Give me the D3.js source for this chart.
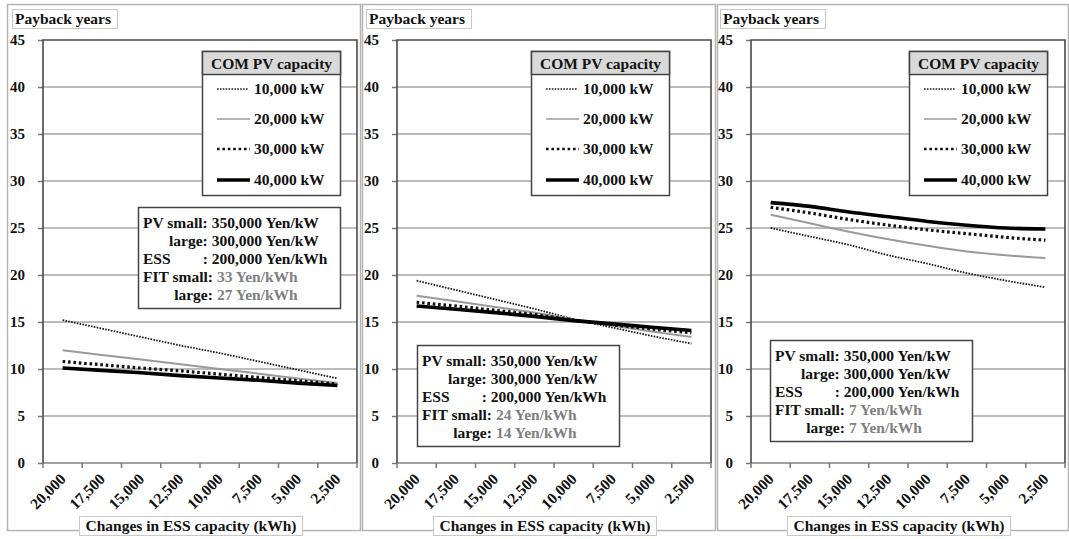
<!DOCTYPE html>
<html>
<head>
<meta charset="utf-8">
<script src="https://cdn.jsdelivr.net/npm/d3@7"></script>
<style>
  html, body { margin: 0; padding: 0; background: #fff; }
  svg { display: block; }
  svg text { font-family: "Liberation Serif", "DejaVu Serif", serif !important; font-weight: bold; }
</style>
</head>
<body>
<svg id="chart" width="1069" height="539"></svg>
<script>
// ESS capacity categories (kWh), shown from largest to smallest
const essCapacity = ["20,000", "17,500", "15,000", "12,500", "10,000", "7,500", "5,000", "2,500"];
// COM PV capacity series names
const pvCapacity = ["10,000 kW", "20,000 kW", "30,000 kW", "40,000 kW"];
// Payback-year axis ticks
const yTicks = [0, 5, 10, 15, 20, 25, 30, 35, 40, 45];

// FIT 33 / 27 Yen/kWh
const fit33_pv10000 = [15.2, 14.3, 13.4, 12.5, 11.7, 10.8, 9.9, 9.0];
const fit33_pv20000 = [12.0, 11.5, 11.0, 10.5, 10.0, 9.5, 9.0, 8.5];
const fit33_pv30000 = [10.8, 10.45, 10.1, 9.8, 9.45, 9.1, 8.75, 8.4];
const fit33_pv40000 = [10.1, 9.85, 9.6, 9.3, 9.05, 8.8, 8.5, 8.25];

// FIT 24 / 14 Yen/kWh
const fit24_pv10000 = [19.4, 18.4, 17.4, 16.4, 15.3, 14.4, 13.5, 12.7];
const fit24_pv20000 = [17.8, 17.2, 16.6, 16.0, 15.3, 14.6, 14.0, 13.4];
const fit24_pv30000 = [17.1, 16.7, 16.25, 15.8, 15.2, 14.7, 14.25, 13.85];
const fit24_pv40000 = [16.7, 16.35, 16.0, 15.6, 15.15, 14.8, 14.45, 14.1];

// FIT 7 / 7 Yen/kWh
const fit7_pv10000 = [25.0, 24.1, 23.2, 22.1, 21.2, 20.2, 19.4, 18.7];
const fit7_pv20000 = [26.4, 25.5, 24.6, 23.8, 23.1, 22.5, 22.1, 21.8];
const fit7_pv30000 = [27.2, 26.6, 25.9, 25.3, 24.8, 24.4, 24.0, 23.7];
const fit7_pv40000 = [27.7, 27.3, 26.7, 26.2, 25.7, 25.3, 25.0, 24.9];

// Cost assumptions printed in each note box
const pvSmallCost = "350,000 Yen/kW";
const pvLargeCost = "300,000 Yen/kW";
const essCost = ": 200,000 Yen/kWh";
const fitSmall = ["33 Yen/kWh", "24 Yen/kWh", "7 Yen/kWh"];
const fitLarge = ["27 Yen/kWh", "14 Yen/kWh", "7 Yen/kWh"];

const panelSeries = [
  [fit33_pv10000, fit33_pv20000, fit33_pv30000, fit33_pv40000],
  [fit24_pv10000, fit24_pv20000, fit24_pv30000, fit24_pv40000],
  [fit7_pv10000, fit7_pv20000, fit7_pv30000, fit7_pv40000]
];

// Line styles per PV capacity
const lineStyle = [
  { stroke: "#1a1a1a", width: 1.8, dash: "1.6 1.3", legendDash: "1.6 1.3", legendW: 1.6 },
  { stroke: "#9a9a9a", width: 2.0, dash: null, legendDash: null, legendW: 1.6 },
  { stroke: "#111", width: 3.2, dash: "2.6 2.8", legendDash: "2.6 2.8", legendW: 2.6 },
  { stroke: "#000", width: 3.6, dash: null, legendDash: null, legendW: 3.4 }
];

// Panel layout
const layout = [
  { frameX: 7,   frameW: 353, plotL: 43,  legendX: 202, noteX: 138, noteY: 207, smooth: false },
  { frameX: 362, frameW: 353, plotL: 397, legendX: 531, noteX: 417, noteY: 345, smooth: false },
  { frameX: 717, frameW: 351, plotL: 751, legendX: 909, noteX: 770, noteY: 340, smooth: true }
];
const plotW = 314, plotTop = 40, plotBottom = 463;
const fontSize = 15.5;
const serif = "Liberation Serif, DejaVu Serif, serif";

const svg = d3.select("#chart")
  .attr("font-family", serif).attr("font-weight", "bold");

layout.forEach((p, pi) => {
  const g = svg.append("g");
  const L = p.plotL, R = p.plotL + plotW;

  // panel frame
  g.append("rect")
    .attr("x", p.frameX + 0.5).attr("y", 4.5)
    .attr("width", p.frameW).attr("height", 526)
    .attr("fill", "none").attr("stroke", "#b4b4b4").attr("stroke-width", 1.5);

  const x = d3.scaleBand().domain(essCapacity).range([L, R]);
  const y = d3.scaleLinear().domain([0, 45]).range([plotBottom, plotTop]);

  // horizontal gridlines
  g.append("g").selectAll("line")
    .data(yTicks.filter(t => t > 0 && t < 45))
    .join("line")
    .attr("x1", L).attr("x2", R)
    .attr("y1", d => y(d)).attr("y2", d => y(d))
    .attr("stroke", "#a6a6a6").attr("stroke-width", 1.5);

  // y axis
  const yAxis = g.append("g")
    .attr("transform", `translate(${L},0)`)
    .call(d3.axisLeft(y).tickValues(yTicks).tickSize(5).tickPadding(13));
  yAxis.attr("font-family", serif).attr("font-size", 15);
  yAxis.select(".domain").remove();
  yAxis.selectAll(".tick line").attr("stroke", "#777").attr("stroke-width", 1.5);
  yAxis.selectAll(".tick text").attr("fill", "#111");

  // x axis ticks on band edges
  const edges = d3.range(essCapacity.length + 1).map(i => L + i * x.step());
  g.append("g").selectAll("line").data(edges).join("line")
    .attr("x1", d => d).attr("x2", d => d)
    .attr("y1", plotBottom).attr("y2", plotBottom + 5)
    .attr("stroke", "#777").attr("stroke-width", 1.5);
  g.append("line")
    .attr("x1", L).attr("x2", R).attr("y1", plotBottom).attr("y2", plotBottom)
    .attr("stroke", "#808080").attr("stroke-width", 1.5);

  // plot border (top, right, left)
  g.append("path")
    .attr("d", `M${L},${plotBottom}V${plotTop}H${R}V${plotBottom}`)
    .attr("fill", "none").attr("stroke", "#4a4a4a").attr("stroke-width", 1.6);

  // x tick labels, rotated
  g.append("g").selectAll("text").data(essCapacity).join("text")
    .attr("transform", d => `translate(${x(d) + x.bandwidth() / 2 + 4},${plotBottom + 17}) rotate(-45)`)
    .attr("text-anchor", "end")
    .attr("font-size", 15.5).attr("fill", "#111")
    .text(d => d);

  // series lines
  const line = d3.line()
    .x((d, i) => x(essCapacity[i]) + x.bandwidth() / 2)
    .y(d => y(d))
    .curve(p.smooth ? d3.curveMonotoneX : d3.curveLinear);

  panelSeries[pi].forEach((vals, si) => {
    const s = lineStyle[si];
    g.append("path")
      .datum(vals)
      .attr("d", line)
      .attr("fill", "none")
      .attr("stroke", s.stroke)
      .attr("stroke-width", s.width)
      .attr("stroke-dasharray", s.dash);
  });

  // y axis title box
  const yt = g.append("g");
  yt.append("rect")
    .attr("x", L - 31 + 0.5).attr("y", 9.5).attr("width", 105).attr("height", 19)
    .attr("fill", "#fff").attr("stroke", "#c8c8c8").attr("stroke-width", 1);
  yt.append("text")
    .attr("x", L - 28).attr("y", 24)
    .attr("font-size", fontSize).attr("fill", "#111")
    .text("Payback years");

  // x axis title box
  const cx = L + plotW / 2 - 9;
  g.append("rect")
    .attr("x", cx - 111.5).attr("y", 516.5).attr("width", 223).attr("height", 19)
    .attr("fill", "#fff").attr("stroke", "#c8c8c8").attr("stroke-width", 1);
  g.append("text")
    .attr("x", cx).attr("y", 531)
    .attr("text-anchor", "middle")
    .attr("font-size", fontSize).attr("fill", "#111")
    .text("Changes in ESS capacity (kWh)");

  // legend
  const lg = g.append("g").attr("transform", `translate(${p.legendX},51)`);
  lg.append("rect")
    .attr("x", 0.5).attr("y", 0.5).attr("width", 138).attr("height", 144)
    .attr("fill", "#fff").attr("stroke", "#444").attr("stroke-width", 1.5);
  lg.append("rect")
    .attr("x", 0.5).attr("y", 0.5).attr("width", 138).attr("height", 23)
    .attr("fill", "#d9d9d9").attr("stroke", "#444").attr("stroke-width", 1.5);
  lg.append("text")
    .attr("x", 69.5).attr("y", 17.5).attr("text-anchor", "middle")
    .attr("font-size", fontSize).attr("fill", "#111")
    .text("COM PV capacity");
  const rowY = [38, 68, 98, 129];
  pvCapacity.forEach((name, si) => {
    const s = lineStyle[si];
    lg.append("line")
      .attr("x1", 15).attr("x2", si === 0 ? 46 : 48)
      .attr("y1", rowY[si]).attr("y2", rowY[si])
      .attr("stroke", s.stroke).attr("stroke-width", s.legendW)
      .attr("stroke-dasharray", s.legendDash);
    lg.append("text")
      .attr("x", 52).attr("y", rowY[si] + 5)
      .attr("font-size", fontSize).attr("fill", "#111")
      .text(name);
  });

  // cost / tariff note
  const ng = g.append("g").attr("transform", `translate(${p.noteX},${p.noteY})`);
  ng.append("rect")
    .attr("x", 0.5).attr("y", 0.5).attr("width", 202).attr("height", 101)
    .attr("fill", "#fff").attr("stroke", "#444").attr("stroke-width", 1.5);
  const base = [21, 39, 57, 75, 93];
  const t1 = ng.append("text").attr("x", 5).attr("y", base[0]).attr("font-size", fontSize).attr("fill", "#111").text("PV small:");
  const w1 = t1.node().getComputedTextLength();
  ng.append("text").attr("x", 5 + w1 + 4).attr("y", base[0]).attr("font-size", fontSize).attr("fill", "#111").text(pvSmallCost);
  ng.append("text").attr("x", 5 + w1).attr("y", base[1]).attr("text-anchor", "end").attr("font-size", fontSize).attr("fill", "#111").text("large:");
  ng.append("text").attr("x", 5 + w1 + 4).attr("y", base[1]).attr("font-size", fontSize).attr("fill", "#111").text(pvLargeCost);
  ng.append("text").attr("x", 5).attr("y", base[2]).attr("font-size", fontSize).attr("fill", "#111").text("ESS");
  ng.append("text").attr("x", 5 + w1 - 5).attr("y", base[2]).attr("font-size", fontSize).attr("fill", "#111").text(essCost);
  const t4 = ng.append("text").attr("x", 5).attr("y", base[3]).attr("font-size", fontSize).attr("fill", "#111").text("FIT small:");
  const w4 = t4.node().getComputedTextLength();
  ng.append("text").attr("x", 5 + w4 + 4).attr("y", base[3]).attr("font-size", fontSize).attr("fill", "#808080").text(fitSmall[pi]);
  ng.append("text").attr("x", 5 + w4).attr("y", base[4]).attr("text-anchor", "end").attr("font-size", fontSize).attr("fill", "#111").text("large:");
  ng.append("text").attr("x", 5 + w4 + 4).attr("y", base[4]).attr("font-size", fontSize).attr("fill", "#808080").text(fitLarge[pi]);
});
</script>
</body>
</html>
